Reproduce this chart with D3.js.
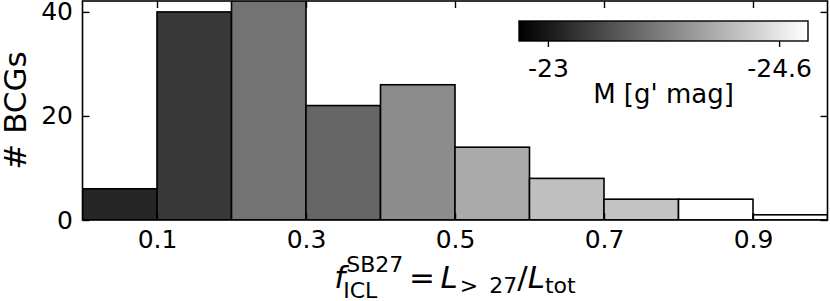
<!DOCTYPE html>
<html>
<head>
<meta charset="utf-8">
<script src="https://cdn.jsdelivr.net/npm/d3@7"></script>
<style>
  html, body { margin: 0; padding: 0; background: #fff; }
  svg { display: block; }
  text { font-family: "DejaVu Sans", sans-serif; fill: #000; }
</style>
</head>
<body>
<svg id="chart" width="830" height="301"></svg>
<script>
// ---- data ----
const binStarts = [0.0, 0.1, 0.2, 0.3, 0.4, 0.5, 0.6, 0.7, 0.8, 0.9];
const binWidth = 0.1;
const counts = [6, 40, 43, 22, 26, 14, 8, 4, 4, 1];
const meanMag = [-23.10, -23.25, -23.70, -23.60, -23.90, -24.13, -24.30, -24.33, -24.90, -24.90];
const xTicks = [0.1, 0.3, 0.5, 0.7, 0.9];
const yTicks = [0, 20, 40];
const cbTicks = [-23, -24.6];
const cbDomain = [-22.8, -24.8];

// ---- layout ----
const svg = d3.select("#chart");
const L = 82.5, R = 827.5, T = 1, B = 220;
const x = d3.scaleLinear().domain([0, 1]).range([L, R]);
const y = d3.scaleLinear().domain([0, 42.1]).range([B, T]);
const color = d3.scaleLinear().domain(cbDomain).range(["#000000", "#ffffff"]).clamp(true);

svg.append("defs").append("clipPath").attr("id", "plotclip")
  .append("rect").attr("x", L).attr("y", T).attr("width", R - L).attr("height", B - T);

// bars
svg.append("g").attr("clip-path", "url(#plotclip)")
  .selectAll("rect").data(binStarts).join("rect")
  .attr("x", (d) => x(d))
  .attr("width", (d) => x(d + binWidth) - x(d))
  .attr("y", (d, i) => y(counts[i]))
  .attr("height", (d, i) => y(0) - y(counts[i]))
  .attr("fill", (d, i) => color(meanMag[i]))
  .attr("stroke", "#000")
  .attr("stroke-width", 1.6);

// axes
const fs = 25;
function styleAxis(g, showLabels) {
  g.select(".domain").remove();
  g.selectAll(".tick line").attr("stroke", "#000").attr("stroke-width", 1.4);
  g.selectAll(".tick text").attr("font-size", fs).attr("font-family", "DejaVu Sans");
  if (!showLabels) g.selectAll(".tick text").remove();
}
svg.append("g").attr("transform", `translate(0,${B})`)
  .call(d3.axisBottom(x).tickValues(xTicks).tickFormat(d3.format(".1f")).tickSize(-7).tickPadding(10))
  .call((g) => styleAxis(g, true));
svg.append("g").attr("transform", `translate(0,${T})`)
  .call(d3.axisTop(x).tickValues(xTicks).tickSize(-7))
  .call((g) => styleAxis(g, false));
svg.append("g").attr("transform", `translate(${L},0)`)
  .call(d3.axisLeft(y).tickValues(yTicks).tickFormat(d3.format("d")).tickSize(-7).tickPadding(9.5))
  .call((g) => styleAxis(g, true));
svg.append("g").attr("transform", `translate(${R},0)`)
  .call(d3.axisRight(y).tickValues(yTicks).tickSize(-7))
  .call((g) => styleAxis(g, false));

// frame
svg.append("rect").attr("x", L).attr("y", T).attr("width", R - L).attr("height", B - T)
  .attr("fill", "none").attr("stroke", "#000").attr("stroke-width", 1.6);

// y label
svg.append("text")
  .attr("transform", `translate(26,110.5) rotate(-90)`)
  .attr("text-anchor", "middle")
  .attr("font-size", 31)
  .text("# BCGs");

// colorbar
const cbL = 519, cbR = 808, cbT = 21, cbB = 41;
const cbx = d3.scaleLinear().domain(cbDomain).range([cbL, cbR]);
const grad = svg.select("defs").append("linearGradient").attr("id", "cbgrad")
  .attr("x1", "0%").attr("x2", "100%").attr("y1", "0%").attr("y2", "0%");
grad.append("stop").attr("offset", "0%").attr("stop-color", color(cbDomain[0]));
grad.append("stop").attr("offset", "100%").attr("stop-color", color(cbDomain[1]));
svg.append("rect").attr("x", cbL).attr("y", cbT).attr("width", cbR - cbL).attr("height", cbB - cbT)
  .attr("fill", "url(#cbgrad)").attr("stroke", "#000").attr("stroke-width", 1.4);
svg.append("g").attr("transform", `translate(0,${cbB})`)
  .call(d3.axisBottom(cbx).tickValues(cbTicks).tickFormat((d) => String(d)).tickSize(6).tickPadding(12))
  .call((g) => styleAxis(g, true));
svg.append("text").attr("x", (cbL + cbR) / 2).attr("y", 102.7)
  .attr("text-anchor", "middle").attr("font-size", 26)
  .text("M [g' mag]");

// x label (math-like)
const F = 31, S = 22;
const xl = svg.append("g");
let cx = 0;
function piece(txt, size, dy, italic, adv = true, startX = null) {
  const t = xl.append("text").attr("x", startX === null ? cx : startX).attr("y", dy)
    .attr("font-size", size).text(txt);
  if (italic) t.attr("font-style", "italic");
  const w = t.node().getComputedTextLength();
  if (adv) cx = (startX === null ? cx : startX) + w;
  return w;
}
piece("f", F, 0, true);
const sx = cx + 1;
const w1 = piece("SB27", S, -16, false, false, sx);
const w2 = piece("ICL", S, 10, false, false, sx - 3);
cx = sx + Math.max(w1, w2);
cx += 0.18 * F;
piece("=", F, 0, false);
cx += 0.18 * F;
piece("L", F, 0, true);
cx += 2;
piece(">\u200227", S, 5, false);
piece("/", F, 0, false);
piece("L", F, 0, true);
piece("tot", S, 5, false);
const totalW = cx;
xl.attr("transform", `translate(${(L + R) / 2 - totalW / 2},288)`);
</script>
</body>
</html>
